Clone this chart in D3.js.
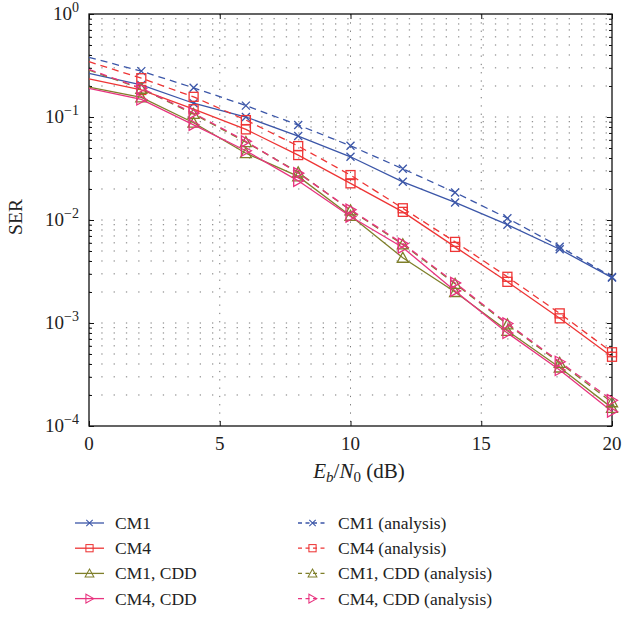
<!DOCTYPE html>
<meta charset="utf-8">
<html>
<title>SER vs Eb/N0</title>
<script src="https://d3js.org/d3.v7.min.js"></script>
<style>
  body {margin: 0; background: #fff; font-family: "Liberation Serif", "DejaVu Serif", serif;}
  .grid line {stroke: #777; stroke-width: 1; stroke-dasharray: 1.3,11;}
  .line {fill: none; stroke-width: 1.3px;}
  .mark {fill: none; stroke-width: 1.3px;}
  .lbl {font-family: "Liberation Serif", serif; fill: #222;}
</style>
<body>
<svg id="chart" width="624" height="617"></svg>
<script>
// Eb/N0 (dB)
var snr = [0, 2, 4, 6, 8, 10, 12, 14, 16, 18, 20];

// SER values
var cm1Sim    = [0.265, 0.205, 0.136, 0.100, 0.0653, 0.0411, 0.0235, 0.0148, 0.0090, 0.0052, 0.00276];
var cm1Ana    = [0.379, 0.279, 0.192, 0.129, 0.0835, 0.0526, 0.0314, 0.0185, 0.0104, 0.0055, 0.0028];
var cm4Sim    = [0.234, 0.183, 0.119, 0.0758, 0.0427, 0.0227, 0.0120, 0.00548, 0.00251, 0.00111, 0.00047];
var cm4Ana    = [0.344, 0.238, 0.157, 0.0933, 0.0522, 0.0273, 0.0130, 0.00613, 0.00281, 0.00124, 0.00052];
var cm1CddSim = [0.195, 0.155, 0.088, 0.0445, 0.0265, 0.0110, 0.0043, 0.00200, 0.00084, 0.00037, 0.000150];
var cm4CddSim = [0.190, 0.148, 0.084, 0.0470, 0.0240, 0.0108, 0.0054, 0.00205, 0.00080, 0.00035, 0.000138];
var cm1CddAna = [0.285, 0.188, 0.107, 0.057, 0.0290, 0.0124, 0.0058, 0.00240, 0.00097, 0.00041, 0.000170];
var cm4CddAna = [0.290, 0.190, 0.109, 0.058, 0.0285, 0.0126, 0.0059, 0.00245, 0.00099, 0.00042, 0.000178];

var xTicks = [0, 5, 10, 15, 20];
var yMajor = [1, 0.1, 0.01, 0.001, 0.0001];
var yExp = ["0", "\u22121", "\u22122", "\u22123", "\u22124"];

var series = [
  {name: "CM1",                  vals: cm1Sim,    color: "#3b56a8", dash: null,  mk: "x"},
  {name: "CM4",                  vals: cm4Sim,    color: "#ee3535", dash: null,  mk: "sq"},
  {name: "CM1, CDD",             vals: cm1CddSim, color: "#7f7f2a", dash: null,  mk: "up"},
  {name: "CM4, CDD",             vals: cm4CddSim, color: "#e8337f", dash: null,  mk: "right"},
  {name: "CM1 (analysis)",       vals: cm1Ana,    color: "#3b56a8", dash: "7,5", mk: "x"},
  {name: "CM4 (analysis)",       vals: cm4Ana,    color: "#ee3535", dash: "7,5", mk: "sq"},
  {name: "CM1, CDD (analysis)",  vals: cm1CddAna, color: "#7f7f2a", dash: "7,5", mk: "up"},
  {name: "CM4, CDD (analysis)",  vals: cm4CddAna, color: "#e8337f", dash: "7,5", mk: "right"}
];

var svg = d3.select("#chart"),
    L = 89, R = 612, T = 14, B = 426;

var x = d3.scaleLinear().domain([0, 20]).range([L, R]);
var y = d3.scaleLog().domain([1e-4, 1]).range([B, T]);

// minor values of the log axis
var yMinor = [];
[1e-4, 1e-3, 1e-2, 1e-1].forEach(function (d) {
  for (var k = 2; k <= 9; k++) yMinor.push(d * k);
});

// grid
var grid = svg.append("g").attr("class", "grid");
grid.selectAll(".h").data(yMinor.concat([0.1, 0.01, 0.001])).enter().append("line")
    .attr("x1", L).attr("x2", R)
    .attr("y1", function (d) { return y(d); }).attr("y2", function (d) { return y(d); });
grid.selectAll(".v").data([5, 10, 15]).enter().append("line")
    .attr("y1", T).attr("y2", B)
    .attr("x1", function (d) { return x(d); }).attr("x2", function (d) { return x(d); })
    .style("stroke-dasharray", "1.3,7");

// ticks, all four sides, pointing in
function addAxis(axis, tr) {
  svg.append("g").attr("transform", tr).call(axis)
     .call(function (g) { g.select(".domain").remove(); g.selectAll("line").attr("stroke", "#111"); });
}
addAxis(d3.axisBottom(x).tickValues(xTicks).tickSize(-5).tickFormat(""), "translate(0," + B + ")");
addAxis(d3.axisTop(x).tickValues(xTicks).tickSize(-5).tickFormat(""), "translate(0," + T + ")");
addAxis(d3.axisLeft(y).tickValues(yMajor).tickSize(-5).tickFormat(""), "translate(" + L + ",0)");
addAxis(d3.axisRight(y).tickValues(yMajor).tickSize(-5).tickFormat(""), "translate(" + R + ",0)");
addAxis(d3.axisLeft(y).tickValues(yMinor).tickSize(-3).tickFormat(""), "translate(" + L + ",0)");
addAxis(d3.axisRight(y).tickValues(yMinor).tickSize(-3).tickFormat(""), "translate(" + R + ",0)");

// frame
svg.append("rect").attr("x", L).attr("y", T).attr("width", R - L).attr("height", B - T)
   .attr("fill", "none").attr("stroke", "#111").attr("stroke-width", 1.3);

// tick labels
svg.selectAll(".xl").data(xTicks).enter().append("text")
   .attr("class", "lbl").attr("text-anchor", "middle").style("font-size", "19px")
   .attr("x", function (d) { return x(d); }).attr("y", B + 24)
   .text(function (d) { return d; });

var yl = svg.selectAll(".yl").data(yMajor).enter().append("text")
   .attr("class", "lbl").attr("text-anchor", "end").style("font-size", "19px")
   .attr("x", L - 10).attr("y", function (d) { return y(d) + 6; });
yl.append("tspan").text("10");
yl.append("tspan").attr("dy", -8).style("font-size", "14px")
  .text(function (d, i) { return yExp[i]; });

// axis titles
svg.append("text").attr("class", "lbl").attr("text-anchor", "middle").style("font-size", "19.5px")
   .attr("transform", "translate(22," + 217 + ") rotate(-90)")
   .text("SER");

var xt = svg.append("text").attr("class", "lbl").attr("text-anchor", "middle").style("font-size", "21px")
   .attr("x", 359).attr("y", 478);
xt.append("tspan").style("font-style", "italic").text("E");
xt.append("tspan").attr("dy", 4).style("font-size", "15px").style("font-style", "italic").text("b");
xt.append("tspan").attr("dy", -4).text("/");
xt.append("tspan").style("font-style", "italic").text("N");
xt.append("tspan").attr("dy", 4).style("font-size", "15px").text("0");
xt.append("tspan").attr("dy", -4).text(" (dB)");

// marker shapes
function marker(g, type, color) {
  if (type === "x") {
    g.append("path").attr("d", "M-4,-4L4,4M-4,4L4,-4");
  } else if (type === "sq") {
    g.append("rect").attr("x", -4.5).attr("y", -4.5).attr("width", 9).attr("height", 9);
  } else if (type === "up") {
    g.append("path").attr("d", "M0,-5.5L5.5,4.5L-5.5,4.5Z");
  } else {
    g.append("path").attr("d", "M5.5,0L-4.5,-5.5L-4.5,5.5Z");
  }
  g.selectAll("*").attr("class", "mark").attr("stroke", color);
}

var line = d3.line()
    .x(function (d, i) { return x(snr[i]); })
    .y(function (d) { return y(d); });

var plot = svg.append("g");
series.forEach(function (s) {
  plot.append("path").datum(s.vals)
      .attr("class", "line")
      .attr("stroke", s.color)
      .attr("stroke-dasharray", s.dash)
      .attr("d", line);
  // no marker drawn at 0 dB
  plot.selectAll(null).data(s.vals.slice(1)).enter().append("g")
      .attr("transform", function (d, i) { return "translate(" + x(snr[i + 1]) + "," + y(d) + ")"; })
      .each(function () { marker(d3.select(this), s.mk, s.color); });
});

// legend, two columns
var leg = svg.append("g");
series.forEach(function (s, i) {
  var col = Math.floor(i / 4), row = i % 4;
  var lx = col === 0 ? 75 : 298, ly = 523 + row * 25.2;
  var g = leg.append("g").attr("transform", "translate(" + lx + "," + ly + ")");
  g.append("line").attr("x1", 0).attr("x2", 29).attr("y1", 0).attr("y2", 0)
   .attr("class", "line").attr("stroke", s.color)
   .attr("stroke-dasharray", s.dash ? "4,3.5" : null);
  var m = g.append("g").attr("transform", "translate(14.5,0) scale(0.8)");
  marker(m, s.mk, s.color);
  g.append("text").attr("class", "lbl").style("font-size", "17.5px")
   .attr("x", 40).attr("y", 6).text(s.name);
});
</script>
</body>
</html>
